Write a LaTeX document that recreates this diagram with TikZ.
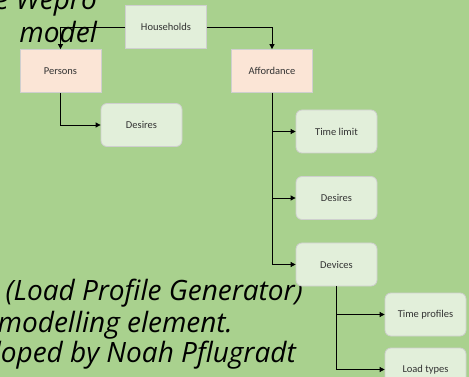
\documentclass[tikz,border=0pt]{standalone}
\usepackage{fontspec}
\setmainfont{Carlito}
\newfontfamily\bigfont{Open Sans}
\usetikzlibrary{arrows.meta}
\definecolor{bg}{HTML}{A9D18E}
\definecolor{lgreen}{HTML}{E2EFDA}
\definecolor{peach}{HTML}{FBE5D6}
\definecolor{bord}{HTML}{CFCFCF}
\begin{document}
\begin{tikzpicture}[x=1pt,y=-1pt,
  base/.style={draw=bord, line width=0.8pt, minimum width=81pt, minimum height=43pt, inner sep=0pt, font=\fontsize{10.5}{12}\selectfont, text=black!80},
  rootbox/.style={base, fill=lgreen},
  midbox/.style={base, fill=peach},
  leafbox/.style={base, fill=lgreen, rounded corners=6pt},
  conn/.style={draw=black, line width=0.8pt, -{Triangle[length=5pt,width=5pt]}},
  bigtxt/.style={font=\bigfont\itshape\fontsize{28}{32}\selectfont, inner sep=0pt}]
\useasboundingbox (0,0) rectangle (469,377);
\clip (0,0) rectangle (469,377);
\fill[bg] (0,0) rectangle (469,377);
% big text
\node[bigtxt, anchor=base east] (t1) at (97,10) {e Wepro};
\node[bigtxt, anchor=base east] (t2) at (97,43) {model};
\node[bigtxt, anchor=base east] (t3) at (303,300) {(Load Profile Generator)};
\node[bigtxt, anchor=base east] (t4) at (233,332) {modelling element.};
\node[bigtxt, anchor=base east] (t5) at (296,362) {loped by Noah Pflugradt};
% nodes
\node[rootbox] (hh) at (166,27) {Households};
\node[midbox] (pers) at (60.5,71) {Persons};
\node[midbox] (aff) at (272,71) {Affordance};
\node[leafbox] (des1) at (141.5,125) {Desires};
\node[leafbox] (tl) at (336.5,131.5) {Time limit};
\node[leafbox] (des2) at (336.5,198) {Desires};
\node[leafbox] (dev) at (336.5,264.5) {Devices};
\node[leafbox] (tp) at (425.5,314.5) {Time profiles};
\node[leafbox] (lt) at (425.5,369.5) {Load types};
% connectors
\draw[conn] (hh.west) -| (pers.north);
\draw[conn] (hh.east) -| (aff.north);
\draw[conn] (pers.south) |- (des1.west);
\draw[conn] (aff.south) |- (tl.west);
\draw[conn] (aff.south) |- (des2.west);
\draw[conn] (aff.south) |- (dev.west);
\draw[conn] (dev.south) |- (tp.west);
\draw[conn] (dev.south) |- (lt.west);
\end{tikzpicture}
\end{document}
